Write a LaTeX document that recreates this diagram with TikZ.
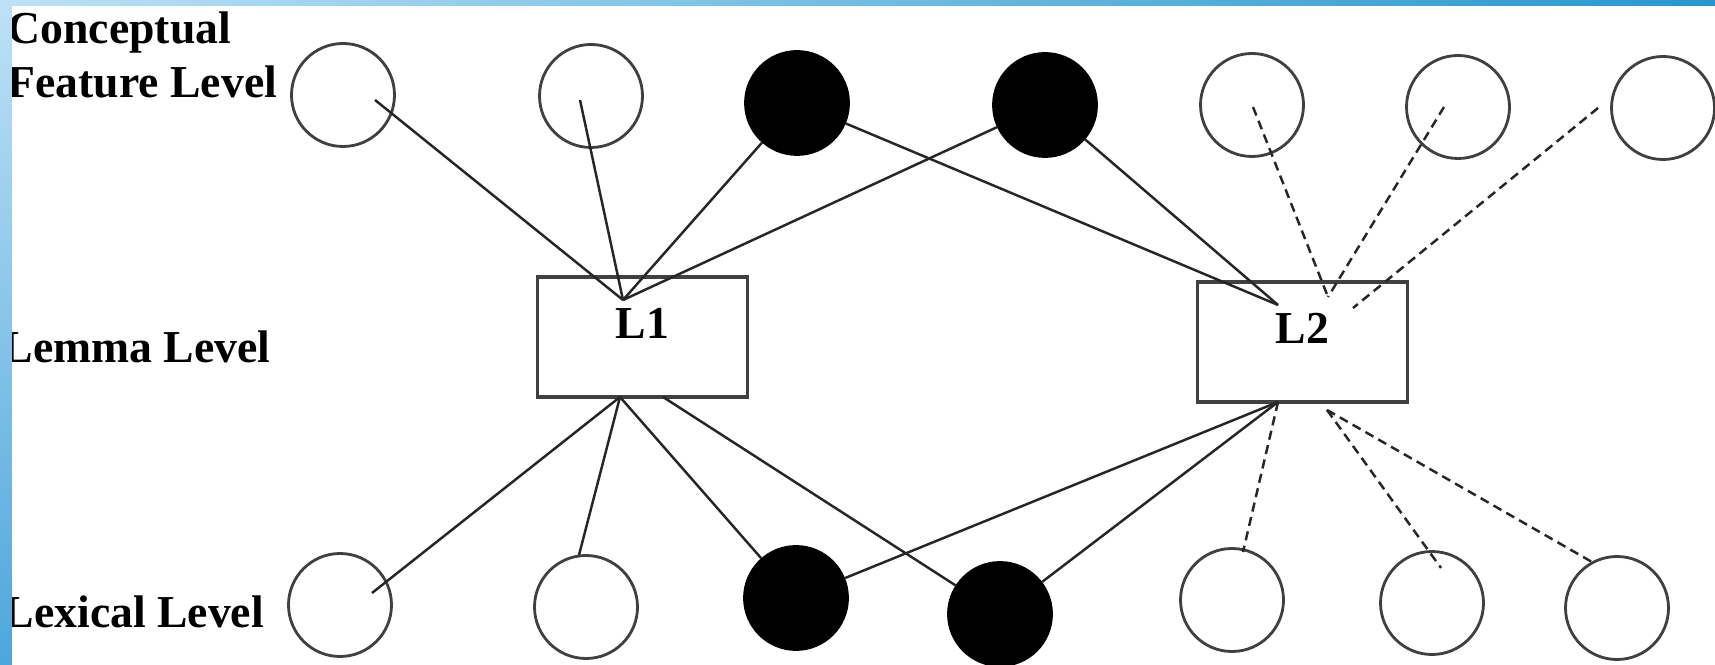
\documentclass[tikz,border=0pt]{standalone}
\usepackage{fontspec}
\setmainfont{Liberation Serif}
\usetikzlibrary{positioning}
\definecolor{barlight}{RGB}{190,225,246}
\definecolor{bardark}{RGB}{38,152,207}
\definecolor{barleft}{RGB}{78,166,220}

\begin{document}
\begin{tikzpicture}[x=1cm, y=1cm,
		feat/.style={circle, draw=black!75, line width=0.8pt, minimum size=1.03cm, inner sep=0pt},
		feat on/.style={feat, draw=black, fill=black},
		lemma/.style={rectangle, draw=black!75, line width=0.9pt, minimum width=2.1cm,
			inner sep=0pt, text height=0.62cm, text depth=0.58cm,
			font=\fontsize{13}{15.6}\selectfont\bfseries},
		level/.style={anchor=base west, inner sep=0pt, align=left,
			font=\fontsize{13}{15.6}\selectfont\bfseries},
		link/.style={line width=0.7pt, draw=black!85},
		weak/.style={link, dash pattern=on 2.6pt off 1.6pt}]

		\fill [white] (0,0) rectangle (17.15,6.64);
		\useasboundingbox (0,0) rectangle (17.15,6.64);

		% Level names
		\node [level] (lab-concept) at (0.07,5.66) {Conceptual\\Feature Level};
		\node [level] (lab-lemma) at (0.02,3.01) {Lemma Level};
		\node [level] (lab-lexical) at (0.03,0.36) {Lexical Level};

		% Conceptual features
		\node [feat] (f1) at (3.43,5.69) {};
		\node [feat] (f2) at (5.91,5.68) {};
		\node [feat on] (f3) at (7.97,5.61) {};
		\node [feat on] (f4) at (10.45,5.59) {};
		\node [feat] (f5) at (12.52,5.59) {};
		\node [feat] (f6) at (14.58,5.57) {};
		\node [feat] (f7) at (16.63,5.56) {};

		% Lemmas
		\node [lemma] (l1) at (6.425,3.27) {L1};
		\node [lemma] (l2) at (13.025,3.22) {L2};

		% Lexical items
		\node [feat] (b1) at (3.40,0.59) {};
		\node [feat] (b2) at (5.86,0.57) {};
		\node [feat on] (b3) at (7.96,0.66) {};
		\node [feat on] (b4) at (10.00,0.50) {};
		\node [feat] (b5) at (12.32,0.64) {};
		\node [feat] (b6) at (14.32,0.61) {};
		\node [feat] (b7) at (16.17,0.56) {};

		% loose line ends
		\coordinate (f1in) at (3.75,5.64);
		\coordinate (f2in) at (5.80,5.64);
		\coordinate (f5in) at (12.53,5.57);
		\coordinate (f6in) at (14.44,5.57);
		\coordinate (f7in) at (15.98,5.56);
		\coordinate (b1in) at (3.72,0.71);
		\coordinate (b2in) at (5.79,1.09);
		\coordinate (b5in) at (12.43,1.12);
		\coordinate (b6in) at (14.41,0.96);
		\coordinate (b7in) at (15.92,1.02);

		\coordinate (l1top) at (6.23,3.64);
		\coordinate (l1bot) at (6.20,2.67);
		\coordinate (l1bot2) at (6.63,2.67);
		\coordinate (l2top) at (12.78,3.59);
		\coordinate (l2top2) at (13.28,3.67);
		\coordinate (l2top3) at (13.53,3.56);
		\coordinate (l2bot) at (12.78,2.62);
		\coordinate (l2bot2) at (13.27,2.54);

		% Features to lemmas
		\foreach \s in {f1in, f2in, f3, f4}
			\draw [link] (\s) -- (l1top);
		\foreach \s in {f3, f4}
			\draw [link] (\s) -- (l2top);
		\foreach \s in {f5in, f6in}
			\draw [weak] (\s) -- (l2top2);
		\draw [weak] (f7in) -- (l2top3);

		% Lemmas to lexical items
		\foreach \t in {b1in, b2in, b3}
			\draw [link] (l1bot) -- (\t);
		\draw [link] (l1bot2) -- (b4);
		\foreach \t in {b3, b4}
			\draw [link] (l2bot) -- (\t);
		\draw [weak] (l2bot) -- (b5in);
		\foreach \t in {b6in, b7in}
			\draw [weak] (l2bot2) -- (\t);

		% slide frame
		\shade [left color=barlight, right color=bardark] (0,6.58) rectangle (17.15,6.64);
		\shade [top color=barlight, bottom color=barleft] (0,0) rectangle (0.12,6.64);

	\end{tikzpicture}
\end{document}
